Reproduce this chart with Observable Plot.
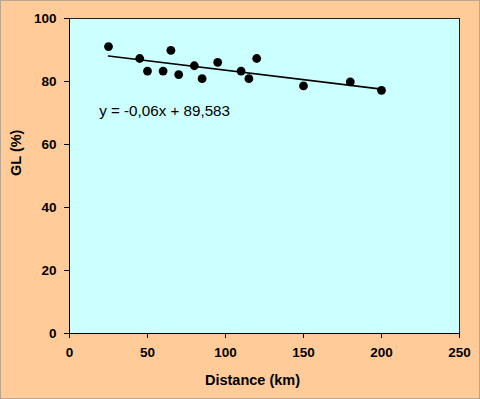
<!DOCTYPE html>
<html>
<head>
<meta charset="utf-8">
<script src="https://cdn.jsdelivr.net/npm/d3@7"></script>
<script src="https://cdn.jsdelivr.net/npm/@observablehq/plot@0.6"></script>
<style>
  html, body { margin: 0; padding: 0; background: #FFCC99; }
  #chart svg { display: block; outline: 1px solid #b8a594; outline-offset: -1px; }
</style>
</head>
<body>
<div id="chart"></div>
<script>
// Data
const distance = [25, 45, 50, 60, 65, 70, 80, 85, 95, 110, 115, 120, 150, 180, 200];
const gl =       [91.1, 87.3, 83.3, 83.3, 89.9, 82.2, 85.0, 80.9, 86.1, 83.3, 80.9, 87.3, 78.6, 79.9, 77.2];
// Trend line endpoints (y = -0,06x + 89,583)
const trendX = [25, 200];
const trendY = [88.08, 77.58];
const xTicks = [0, 50, 100, 150, 200, 250];
const yTicks = [0, 20, 40, 60, 80, 100];
const equationLabel = ["y = -0,06x + 89,583"];
const xTitle = ["Distance (km)"];
const yTitle = ["GL (%)"];

const points = distance.map((d, i) => ({x: d, y: gl[i]}));
const trend = trendX.map((d, i) => ({x: d, y: trendY[i]}));

const font = '"Liberation Sans", Arial, sans-serif';

const chart = Plot.plot({
  width: 480,
  height: 399,
  marginLeft: 69,
  marginRight: 21,
  marginTop: 18,
  marginBottom: 66,
  style: {background: "transparent", fontFamily: font, color: "#000"},
  x: {domain: [0, 250]},
  y: {domain: [0, 100]},
  marks: [
    Plot.frame({fill: "#CCFFFF", stroke: "#222", strokeWidth: 1}),
    Plot.axisX({ticks: xTicks, tickSize: 5, tickPadding: 9, label: null, fontSize: 13.5, fontWeight: "bold", stroke: "#000"}),
    Plot.axisY({ticks: yTicks, tickSize: 5, tickPadding: 8, label: null, fontSize: 13.5, fontWeight: "bold", stroke: "#000"}),
    Plot.ruleX([0], {stroke: "#000"}),
    Plot.ruleY([0], {stroke: "#000"}),
    Plot.line(trend, {x: "x", y: "y", stroke: "#000", strokeWidth: 1.6}),
    Plot.dot(points, {x: "x", y: "y", r: 4.4, fill: "#000", stroke: null}),
    Plot.text(equationLabel, {x: 19, y: 70.7, text: d => d, textAnchor: "start", fontSize: 15.2, fill: "#000"}),
    Plot.text(xTitle, {frameAnchor: "bottom", dx: -12, dy: 47, text: d => d, fontSize: 14.5, fontWeight: "bold", fill: "#000", lineAnchor: "middle"}),
    Plot.text(yTitle, {frameAnchor: "left", dx: -53, text: d => d, rotate: -90, fontSize: 14.5, fontWeight: "bold", fill: "#000"})
  ]
});
document.getElementById("chart").append(chart);
</script>
</body>
</html>
